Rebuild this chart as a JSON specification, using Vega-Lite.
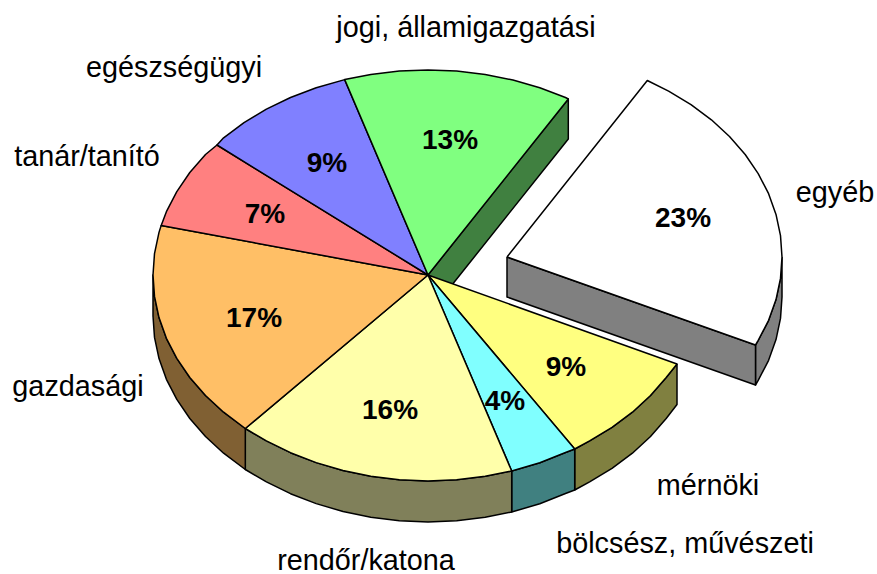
{"$schema":"https://vega.github.io/schema/vega-lite/v6.json","width":877,"height":574,"padding":0,"autosize":{"type":"none"},"background":"white","view":{"stroke":null},
"datasets":{"slices":[
{"category":"egyéb","share":0.23,"lx":835,"ly":193,"vx":683,"vy":219},
{"category":"mérnöki","share":0.09,"lx":708,"ly":486,"vx":566,"vy":368},
{"category":"bölcsész, művészeti","share":0.04,"lx":685,"ly":544,"vx":505,"vy":402},
{"category":"rendőr/katona","share":0.16,"lx":366,"ly":561,"vx":390,"vy":411},
{"category":"gazdasági","share":0.17,"lx":78,"ly":387,"vx":254,"vy":319},
{"category":"tanár/tanító","share":0.07,"lx":87,"ly":157,"vx":265,"vy":215},
{"category":"egészségügyi","share":0.09,"lx":174,"ly":68,"vx":327,"vy":164},
{"category":"jogi, államigazgatási","share":0.13,"lx":466,"ly":28,"vx":450,"vy":141}
],
"sides":[
{"p":"s jogi","i":0,"x":428,"y":275},{"p":"s jogi","i":1,"x":568.3,"y":99},{"p":"s jogi","i":2,"x":568.3,"y":139},{"p":"s jogi","i":3,"x":428,"y":315},{"p":"s jogi","i":4,"x":428,"y":275},
{"p":"s mérnöki","i":0,"x":677,"y":364},{"p":"s mérnöki","i":1,"x":666.2,"y":377.5},{"p":"s mérnöki","i":2,"x":650.5,"y":395.5},{"p":"s mérnöki","i":3,"x":632.4,"y":412.2},{"p":"s mérnöki","i":4,"x":612,"y":427.3},{"p":"s mérnöki","i":5,"x":589.6,"y":440.8},{"p":"s mérnöki","i":6,"x":574.7,"y":449},{"p":"s mérnöki","i":7,"x":574.7,"y":490},{"p":"s mérnöki","i":8,"x":589.6,"y":481.8},{"p":"s mérnöki","i":9,"x":612,"y":468.3},{"p":"s mérnöki","i":10,"x":632.4,"y":453.2},{"p":"s mérnöki","i":11,"x":650.5,"y":436.5},{"p":"s mérnöki","i":12,"x":666.2,"y":418.5},{"p":"s mérnöki","i":13,"x":677,"y":404.5},{"p":"s mérnöki","i":14,"x":677,"y":364},
{"p":"s bölcsész","i":0,"x":574.7,"y":449},{"p":"s bölcsész","i":1,"x":565.5,"y":452.5},{"p":"s bölcsész","i":2,"x":539.8,"y":462.8},{"p":"s bölcsész","i":3,"x":511.7,"y":471},{"p":"s bölcsész","i":4,"x":511.7,"y":512},{"p":"s bölcsész","i":5,"x":539.8,"y":503.8},{"p":"s bölcsész","i":6,"x":565.5,"y":493.5},{"p":"s bölcsész","i":7,"x":574.7,"y":490},{"p":"s bölcsész","i":8,"x":574.7,"y":449},
{"p":"s rendőr","i":0,"x":511.7,"y":471},{"p":"s rendőr","i":1,"x":485.2,"y":476.2},{"p":"s rendőr","i":2,"x":456.7,"y":479.8},{"p":"s rendőr","i":3,"x":428,"y":481},{"p":"s rendőr","i":4,"x":399.3,"y":479.8},{"p":"s rendőr","i":5,"x":370.8,"y":476.2},{"p":"s rendőr","i":6,"x":343,"y":470.5},{"p":"s rendőr","i":7,"x":316.2,"y":462.6},{"p":"s rendőr","i":8,"x":290.5,"y":452.7},{"p":"s rendőr","i":9,"x":266.4,"y":440.9},{"p":"s rendőr","i":10,"x":245.3,"y":428.5},{"p":"s rendőr","i":11,"x":245.3,"y":469.5},{"p":"s rendőr","i":12,"x":266.4,"y":481.9},{"p":"s rendőr","i":13,"x":290.5,"y":493.7},{"p":"s rendőr","i":14,"x":316.2,"y":503.6},{"p":"s rendőr","i":15,"x":343,"y":511.5},{"p":"s rendőr","i":16,"x":370.8,"y":517.2},{"p":"s rendőr","i":17,"x":399.3,"y":520.8},{"p":"s rendőr","i":18,"x":428,"y":522},{"p":"s rendőr","i":19,"x":456.7,"y":520.8},{"p":"s rendőr","i":20,"x":485.2,"y":517.2},{"p":"s rendőr","i":21,"x":511.7,"y":512},{"p":"s rendőr","i":22,"x":511.7,"y":471},
{"p":"s gazdasági","i":0,"x":245.3,"y":428.5},{"p":"s gazdasági","i":1,"x":223.6,"y":412.2},{"p":"s gazdasági","i":2,"x":205.5,"y":395.5},{"p":"s gazdasági","i":3,"x":189.8,"y":377.5},{"p":"s gazdasági","i":4,"x":176.8,"y":358.4},{"p":"s gazdasági","i":5,"x":166.4,"y":338.3},{"p":"s gazdasági","i":6,"x":159,"y":317.6},{"p":"s gazdasági","i":7,"x":154.5,"y":296.4},{"p":"s gazdasági","i":8,"x":153,"y":275},{"p":"s gazdasági","i":9,"x":153,"y":316},{"p":"s gazdasági","i":10,"x":154.5,"y":337.4},{"p":"s gazdasági","i":11,"x":159,"y":358.6},{"p":"s gazdasági","i":12,"x":166.4,"y":379.3},{"p":"s gazdasági","i":13,"x":176.8,"y":399.4},{"p":"s gazdasági","i":14,"x":189.8,"y":418.5},{"p":"s gazdasági","i":15,"x":205.5,"y":436.5},{"p":"s gazdasági","i":16,"x":223.6,"y":453.2},{"p":"s gazdasági","i":17,"x":245.3,"y":469.5},{"p":"s gazdasági","i":18,"x":245.3,"y":428.5},
{"p":"s egyéb a","i":0,"x":782,"y":257},{"p":"s egyéb a","i":1,"x":780.5,"y":278.4},{"p":"s egyéb a","i":2,"x":776,"y":299.6},{"p":"s egyéb a","i":3,"x":768.6,"y":320.3},{"p":"s egyéb a","i":4,"x":758.2,"y":340.4},{"p":"s egyéb a","i":5,"x":755.5,"y":345},{"p":"s egyéb a","i":6,"x":755.5,"y":385},{"p":"s egyéb a","i":7,"x":758.2,"y":380.4},{"p":"s egyéb a","i":8,"x":768.6,"y":360.3},{"p":"s egyéb a","i":9,"x":776,"y":339.6},{"p":"s egyéb a","i":10,"x":780.5,"y":318.4},{"p":"s egyéb a","i":11,"x":782,"y":297},{"p":"s egyéb a","i":12,"x":782,"y":257},
{"p":"s egyéb b","i":0,"x":507,"y":257},{"p":"s egyéb b","i":1,"x":755.5,"y":345},{"p":"s egyéb b","i":2,"x":755.5,"y":385},{"p":"s egyéb b","i":3,"x":507,"y":297},{"p":"s egyéb b","i":4,"x":507,"y":257}
],
"tops":[
{"p":"mérnöki","i":0,"x":428,"y":275},{"p":"mérnöki","i":1,"x":677,"y":364},{"p":"mérnöki","i":2,"x":666.2,"y":377.5},{"p":"mérnöki","i":3,"x":650.5,"y":395.5},{"p":"mérnöki","i":4,"x":632.4,"y":412.2},{"p":"mérnöki","i":5,"x":612,"y":427.3},{"p":"mérnöki","i":6,"x":589.6,"y":440.8},{"p":"mérnöki","i":7,"x":574.7,"y":449},{"p":"mérnöki","i":8,"x":428,"y":275},
{"p":"bölcsész","i":0,"x":428,"y":275},{"p":"bölcsész","i":1,"x":574.7,"y":449},{"p":"bölcsész","i":2,"x":565.5,"y":452.5},{"p":"bölcsész","i":3,"x":539.8,"y":462.8},{"p":"bölcsész","i":4,"x":511.7,"y":471},{"p":"bölcsész","i":5,"x":428,"y":275},
{"p":"rendőr","i":0,"x":428,"y":275},{"p":"rendőr","i":1,"x":511.7,"y":471},{"p":"rendőr","i":2,"x":485.2,"y":476.2},{"p":"rendőr","i":3,"x":456.7,"y":479.8},{"p":"rendőr","i":4,"x":428,"y":481},{"p":"rendőr","i":5,"x":399.3,"y":479.8},{"p":"rendőr","i":6,"x":370.8,"y":476.2},{"p":"rendőr","i":7,"x":343,"y":470.5},{"p":"rendőr","i":8,"x":316.2,"y":462.6},{"p":"rendőr","i":9,"x":290.5,"y":452.7},{"p":"rendőr","i":10,"x":266.4,"y":440.9},{"p":"rendőr","i":11,"x":245.3,"y":428.5},{"p":"rendőr","i":12,"x":428,"y":275},
{"p":"gazdasági","i":0,"x":428,"y":275},{"p":"gazdasági","i":1,"x":245.3,"y":428.5},{"p":"gazdasági","i":2,"x":223.6,"y":412.2},{"p":"gazdasági","i":3,"x":205.5,"y":395.5},{"p":"gazdasági","i":4,"x":189.8,"y":377.5},{"p":"gazdasági","i":5,"x":176.8,"y":358.4},{"p":"gazdasági","i":6,"x":166.4,"y":338.3},{"p":"gazdasági","i":7,"x":159,"y":317.6},{"p":"gazdasági","i":8,"x":154.5,"y":296.4},{"p":"gazdasági","i":9,"x":153,"y":275},{"p":"gazdasági","i":10,"x":154.5,"y":253.6},{"p":"gazdasági","i":11,"x":159,"y":232.4},{"p":"gazdasági","i":12,"x":161.2,"y":225.4},{"p":"gazdasági","i":13,"x":428,"y":275},
{"p":"tanár","i":0,"x":428,"y":275},{"p":"tanár","i":1,"x":161.2,"y":225.4},{"p":"tanár","i":2,"x":166.4,"y":211.7},{"p":"tanár","i":3,"x":176.8,"y":191.6},{"p":"tanár","i":4,"x":189.8,"y":172.5},{"p":"tanár","i":5,"x":205.5,"y":154.5},{"p":"tanár","i":6,"x":217,"y":145},{"p":"tanár","i":7,"x":428,"y":275},
{"p":"egészségügyi","i":0,"x":428,"y":275},{"p":"egészségügyi","i":1,"x":217,"y":145},{"p":"egészségügyi","i":2,"x":223.6,"y":137.8},{"p":"egészségügyi","i":3,"x":244,"y":122.7},{"p":"egészségügyi","i":4,"x":266.4,"y":109.2},{"p":"egészségügyi","i":5,"x":290.5,"y":97.5},{"p":"egészségügyi","i":6,"x":316.2,"y":87.7},{"p":"egészségügyi","i":7,"x":344.7,"y":79.6},{"p":"egészségügyi","i":8,"x":428,"y":275},
{"p":"jogi","i":0,"x":428,"y":275},{"p":"jogi","i":1,"x":344.7,"y":79.6},{"p":"jogi","i":2,"x":370.8,"y":74.5},{"p":"jogi","i":3,"x":399.3,"y":71.1},{"p":"jogi","i":4,"x":428,"y":70},{"p":"jogi","i":5,"x":456.7,"y":71.1},{"p":"jogi","i":6,"x":485.2,"y":74.5},{"p":"jogi","i":7,"x":513,"y":80},{"p":"jogi","i":8,"x":539.8,"y":87.7},{"p":"jogi","i":9,"x":565.5,"y":97.5},{"p":"jogi","i":10,"x":568.3,"y":99},{"p":"jogi","i":11,"x":428,"y":275},
{"p":"egyéb","i":0,"x":507,"y":257},{"p":"egyéb","i":1,"x":647.3,"y":80.5},{"p":"egyéb","i":2,"x":668.6,"y":91.2},{"p":"egyéb","i":3,"x":691,"y":104.7},{"p":"egyéb","i":4,"x":711.4,"y":119.8},{"p":"egyéb","i":5,"x":729.5,"y":136.5},{"p":"egyéb","i":6,"x":745.2,"y":154.5},{"p":"egyéb","i":7,"x":758.2,"y":173.6},{"p":"egyéb","i":8,"x":768.6,"y":193.7},{"p":"egyéb","i":9,"x":776,"y":214.4},{"p":"egyéb","i":10,"x":780.5,"y":235.6},{"p":"egyéb","i":11,"x":782,"y":257},{"p":"egyéb","i":12,"x":780.5,"y":278.4},{"p":"egyéb","i":13,"x":776,"y":299.6},{"p":"egyéb","i":14,"x":768.6,"y":320.3},{"p":"egyéb","i":15,"x":758.2,"y":340.4},{"p":"egyéb","i":16,"x":755.5,"y":345},{"p":"egyéb","i":17,"x":507,"y":257}
]},
"resolve":{"scale":{"x":"shared","y":"shared"}},
"layer":[
{"data":{"name":"sides"},"mark":{"type":"line","filled":true,"stroke":"black","strokeWidth":1.5,"strokeJoin":"round","clip":false},
"encoding":{"x":{"field":"x","type":"quantitative","scale":{"domain":[0,877]},"axis":null},"y":{"field":"y","type":"quantitative","scale":{"domain":[0,574],"reverse":true},"axis":null},"order":{"field":"i","type":"quantitative"},"detail":{"field":"p"},
"color":{"field":"p","type":"nominal","legend":null,"scale":{"domain":["s jogi","s mérnöki","s bölcsész","s rendőr","s gazdasági","s egyéb a","s egyéb b"],"range":["#408040","#808040","#408080","#80805A","#806033","#808080","#808080"]}}}},
{"data":{"name":"tops"},"mark":{"type":"line","filled":true,"stroke":"black","strokeWidth":1.5,"strokeJoin":"round","clip":false},
"encoding":{"x":{"field":"x","type":"quantitative","scale":{"domain":[0,877]},"axis":null},"y":{"field":"y","type":"quantitative","scale":{"domain":[0,574],"reverse":true},"axis":null},"order":{"field":"i","type":"quantitative"},"detail":{"field":"p"},
"fill":{"field":"p","type":"nominal","legend":null,"scale":{"domain":["mérnöki","bölcsész","rendőr","gazdasági","tanár","egészségügyi","jogi","egyéb"],"range":["#FFFF80","#80FFFF","#FFFFAA","#FFBF66","#FF8080","#8080FF","#80FF80","#FFFFFF"]}}}},
{"data":{"name":"slices"},"mark":{"type":"text","font":"Liberation Sans","fontSize":28.8,"align":"center","baseline":"middle","color":"black"},
"encoding":{"x":{"field":"lx","type":"quantitative","scale":{"domain":[0,877]},"axis":null},"y":{"field":"ly","type":"quantitative","scale":{"domain":[0,574],"reverse":true},"axis":null},"text":{"field":"category"}}},
{"data":{"name":"slices"},"mark":{"type":"text","font":"Liberation Sans","fontSize":28,"fontWeight":"bold","align":"center","baseline":"middle","color":"black"},
"encoding":{"x":{"field":"vx","type":"quantitative","scale":{"domain":[0,877]},"axis":null},"y":{"field":"vy","type":"quantitative","scale":{"domain":[0,574],"reverse":true},"axis":null},"text":{"field":"share","format":".0%"}}}
]}
